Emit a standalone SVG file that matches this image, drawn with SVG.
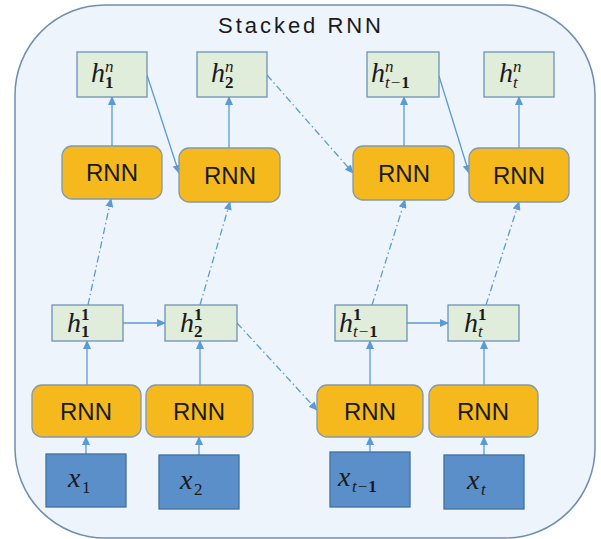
<svg xmlns="http://www.w3.org/2000/svg" width="601" height="539" viewBox="0 0 601 539">
<defs>
<marker id="ah" markerWidth="9" markerHeight="8" refX="8" refY="4" orient="auto" markerUnits="userSpaceOnUse">
<path d="M0,0 L9,4 L0,8 Z" fill="#5B9BD5"/>
</marker>
<style>
.frame{fill:#EDF4FB;stroke:#6E8FB2;stroke-width:1.5}
.h{fill:#E0EDDA;stroke:#6F93B5;stroke-width:1.3}
.rnn{fill:#F5B91E;stroke:#8298B0;stroke-width:1.3}
.x{fill:#5B8FC9;stroke:#41719C;stroke-width:1.3}
.c{stroke:#5B9BD5;stroke-width:1.3;fill:none;marker-end:url(#ah)}
.dd{stroke-dasharray:7 3 1.5 3}
.rt{font-family:"Liberation Sans",Arial,sans-serif;font-size:24px;fill:#1a1a1a;text-anchor:middle}
.m{font-family:"Liberation Serif","DejaVu Serif",serif;font-size:28px;fill:#1a1a1a;font-style:italic}
.s{font-family:"Liberation Serif","DejaVu Serif",serif;font-size:17px;fill:#1a1a1a;font-style:italic}
.b{font-style:normal;font-weight:bold}
.r{font-style:normal}
.title{font-family:"Liberation Sans",Arial,sans-serif;font-size:22px;fill:#1a1a1a}
</style>
</defs>
<rect class="frame" x="15" y="5" width="580" height="533" rx="90" ry="90"/>
<text class="title" x="218" y="33" textLength="163" lengthAdjust="spacing">Stacked RNN</text>

<g id="connectors">
<line class="c" x1="112" y1="146" x2="112" y2="97"/>
<line class="c" x1="229" y1="148" x2="229" y2="97"/>
<line class="c" x1="404" y1="146" x2="404" y2="97"/>
<line class="c" x1="519" y1="148" x2="519" y2="97"/>
<line class="c" x1="147" y1="75" x2="179" y2="173"/>
<line class="c" x1="439" y1="76" x2="469" y2="173"/>
<line class="c dd" x1="267" y1="75" x2="353" y2="173"/>
<line class="c dd" x1="88" y1="305" x2="111" y2="199"/>
<line class="c dd" x1="200" y1="305" x2="230" y2="202"/>
<line class="c dd" x1="372" y1="305" x2="405" y2="200"/>
<line class="c dd" x1="486" y1="305" x2="519" y2="202"/>
<line class="c" x1="123" y1="323" x2="165" y2="323"/>
<line class="c" x1="407" y1="323" x2="448" y2="323"/>
<line class="c dd" x1="237" y1="323" x2="317" y2="410"/>
<line class="c" x1="87" y1="385" x2="87" y2="341"/>
<line class="c" x1="200" y1="385" x2="200" y2="341"/>
<line class="c" x1="370" y1="385" x2="370" y2="341"/>
<line class="c" x1="484" y1="385" x2="484" y2="341"/>
<line class="c" x1="86" y1="454" x2="86" y2="437"/>
<line class="c" x1="199" y1="455" x2="199" y2="437"/>
<line class="c" x1="370" y1="452" x2="370" y2="437"/>
<line class="c" x1="484" y1="455" x2="484" y2="437"/>
</g>

<g id="hn1"><rect class="h" x="77" y="52" width="70" height="45"/>
<text class="m" x="91" y="82">h</text><text class="s" x="105" y="72">n</text><text class="s b" x="105" y="88">1</text></g>
<g id="hn2"><rect class="h" x="197" y="52" width="70" height="45"/>
<text class="m" x="211" y="82">h</text><text class="s" x="225" y="72">n</text><text class="s b" x="225" y="88">2</text></g>
<g id="hnt1"><rect class="h" x="367" y="52" width="72" height="45"/>
<text class="m" x="371" y="82">h</text><text class="s" x="385" y="72">n</text><text class="s" x="385" y="88">t−<tspan class="b">1</tspan></text></g>
<g id="hnt"><rect class="h" x="484" y="52" width="70" height="45"/>
<text class="m" x="499" y="82">h</text><text class="s" x="513" y="72">n</text><text class="s" x="513" y="88">t</text></g>

<g id="rnn_n1"><rect class="rnn" x="62" y="146" width="100" height="53" rx="10"/><text class="rt" x="112" y="181">RNN</text></g>
<g id="rnn_n2"><rect class="rnn" x="179" y="148" width="101" height="54" rx="10"/><text class="rt" x="230" y="184">RNN</text></g>
<g id="rnn_nt1"><rect class="rnn" x="353" y="146" width="101" height="54" rx="10"/><text class="rt" x="404" y="182">RNN</text></g>
<g id="rnn_nt"><rect class="rnn" x="469" y="148" width="100" height="54" rx="10"/><text class="rt" x="519" y="184">RNN</text></g>

<g id="h11"><rect class="h" x="52" y="305" width="71" height="36"/>
<text class="m" x="67" y="332">h</text><text class="s b" x="81" y="320">1</text><text class="s b" x="81" y="337">1</text></g>
<g id="h12"><rect class="h" x="165" y="305" width="72" height="36"/>
<text class="m" x="180" y="332">h</text><text class="s b" x="194" y="320">1</text><text class="s b" x="194" y="337">2</text></g>
<g id="h1t1"><rect class="h" x="335" y="305" width="72" height="36"/>
<text class="m" x="339" y="332">h</text><text class="s b" x="353" y="320">1</text><text class="s" x="353" y="337">t−<tspan class="b">1</tspan></text></g>
<g id="h1t"><rect class="h" x="448" y="305" width="71" height="36"/>
<text class="m" x="464" y="332">h</text><text class="s b" x="478" y="320">1</text><text class="s" x="478" y="337">t</text></g>

<g id="rnn_11"><rect class="rnn" x="32" y="385" width="109" height="52" rx="10"/><text class="rt" x="86" y="420">RNN</text></g>
<g id="rnn_12"><rect class="rnn" x="146" y="385" width="107" height="52" rx="10"/><text class="rt" x="199" y="420">RNN</text></g>
<g id="rnn_1t1"><rect class="rnn" x="317" y="385" width="106" height="52" rx="10"/><text class="rt" x="370" y="420">RNN</text></g>
<g id="rnn_1t"><rect class="rnn" x="429" y="385" width="109" height="52" rx="10"/><text class="rt" x="483" y="420">RNN</text></g>

<g id="x1"><rect class="x" x="46" y="454" width="80" height="53"/>
<text class="m" x="68" y="487">x</text><text class="s r" x="82" y="493">1</text></g>
<g id="x2"><rect class="x" x="159" y="455" width="80" height="54"/>
<text class="m" x="180" y="489">x</text><text class="s r" x="194" y="495">2</text></g>
<g id="xt1"><rect class="x" x="330" y="452" width="80" height="55"/>
<text class="m" x="338" y="486">x</text><text class="s" x="352" y="492">t−<tspan class="b">1</tspan></text></g>
<g id="xt"><rect class="x" x="444" y="455" width="80" height="54"/>
<text class="m" x="467" y="489">x</text><text class="s" x="481" y="495">t</text></g>
</svg>
